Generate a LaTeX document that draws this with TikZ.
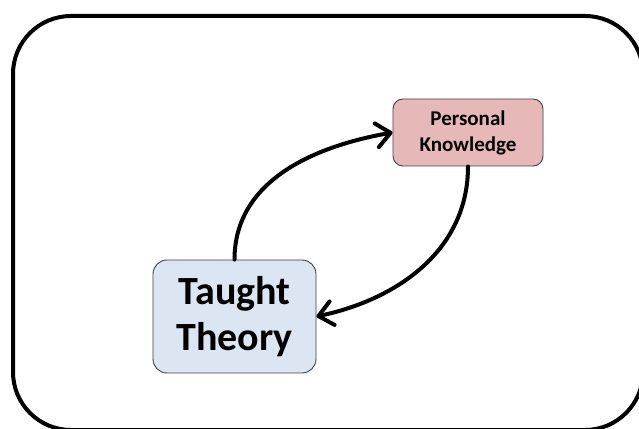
\documentclass[tikz,border=0pt]{standalone}
\usepackage{fontspec}
\setmainfont{Carlito}
\usetikzlibrary{arrows.meta}
\definecolor{pkfill}{HTML}{E6B9B8}
\definecolor{ttfill}{HTML}{DCE6F2}
\definecolor{boxline}{HTML}{404040}
\tikzset{
  frame/.style={draw=black, line width=4pt, rounded corners=58pt},
  pkbox/.style={draw=boxline, line width=0.9pt, fill=pkfill, rounded corners=10pt,
    minimum width=150pt, minimum height=67pt, inner sep=0pt, align=center,
    font=\fontsize{21}{26}\selectfont\bfseries},
  ttbox/.style={draw=boxline, line width=0.9pt, fill=ttfill, rounded corners=14pt,
    minimum width=163pt, minimum height=113pt, inner sep=0pt, align=center,
    font=\fontsize{40}{46}\selectfont\bfseries},
  flow/.style={line width=4pt, line cap=round, line join=round,
    -{Straight Barb[length=14pt,width=24pt,line cap=round,line join=round]}}
}
\begin{document}
\begin{tikzpicture}[x=1pt,y=1pt]
\useasboundingbox (0,0) rectangle (639,428);
\begin{scope}
\clip (0,0) rectangle (639,428);
\draw[frame] (13,412) rectangle (643,-2);
\end{scope}
\node[pkbox] (pk) at (468,295.5) {Personal\\Knowledge};
\node[ttbox] (tt) at (234.5,111.5) {Taught\\Theory};
\draw[flow] (tt.north) to[out=90,in=190] (pk.west);
\draw[flow] (pk.south) to[out=-90,in=12] (tt.east);
\end{tikzpicture}
\end{document}
